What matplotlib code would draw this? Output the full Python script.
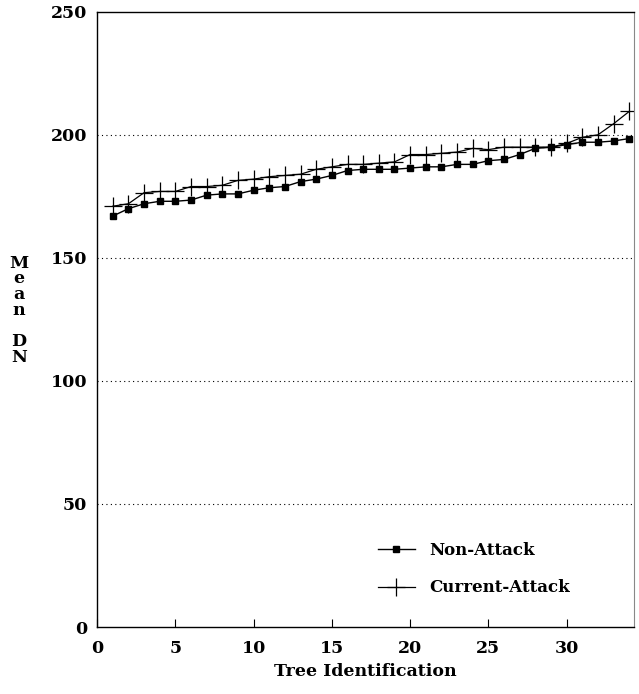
import numpy as np
import matplotlib
matplotlib.use("Agg")
import matplotlib.pyplot as plt

# values
tree_ids = list(range(1, 35))
non_attack = [167, 170, 172, 173, 173, 173.5, 175.5, 176, 176, 177.5,
              178.5, 179, 181, 182, 183.5, 185.5, 186, 186, 186, 186.5,
              187, 187, 188, 188, 189.5, 190, 192, 194.5, 195, 196,
              197, 197, 197.5, 198.5]
current_attack = [171, 172, 176.5, 177, 177, 179, 179, 179.5, 181.5, 182,
                  183, 183.5, 184, 186, 187, 188, 188, 188.5, 189, 192,
                  192, 192.5, 193, 194.5, 194, 195, 195, 195, 195, 196.5,
                  199, 200, 204.5, 209.5]
x_ticks = [0, 5, 10, 15, 20, 25, 30]
y_ticks = [0, 50, 100, 150, 200, 250]


def main():
    plt.rcParams['font.family'] = ['DejaVu Serif']
    plt.rcParams['font.weight'] = 'bold'

    fig = plt.figure(figsize=(6.39, 6.94), dpi=100)
    ax = fig.add_axes([0.152, 0.0965, 0.84, 0.8865])

    ax.plot(tree_ids, non_attack, color='black', lw=1.0, marker='s',
            markersize=4, label='Non-Attack')
    ax.plot(tree_ids, current_attack, color='black', lw=0.9, marker='+',
            markersize=13, markeredgewidth=0.9, label='Current-Attack')

    ax.set_xlim(0, 34.3)
    ax.set_ylim(0, 250)
    ax.set_xticks(x_ticks)
    ax.set_yticks(y_ticks)
    ax.tick_params(axis='x', direction='in', length=6, pad=9, labelsize=12.5)
    ax.tick_params(axis='y', direction='in', length=0, pad=7, labelsize=12.5)

    for y in y_ticks[1:-1]:
        ax.axhline(y, color='black', lw=0.8, ls=(0, (1, 3)))

    for side in ['left', 'bottom', 'top']:
        ax.spines[side].set_linewidth(1.0)
    ax.spines['right'].set_color('#888888')
    ax.spines['top'].set_linestyle((0, (1, 1)))

    ax.set_xlabel('Tree Identification', fontsize=12.5, fontweight='bold', labelpad=5)
    fig.text(0.03, 0.553, 'M\ne\na\nn\n\nD\nN', fontsize=12.5, fontweight='bold',
             ha='center', va='center', linespacing=0.9)

    ax.legend(loc='upper left', bbox_to_anchor=(0.523, 0.139), frameon=False,
              fontsize=12, handlelength=2.2, handletextpad=0.9,
              labelspacing=1.25, borderaxespad=0, borderpad=0)

    fig.savefig('out.png', dpi=100)


if __name__ == "__main__":
    main()
